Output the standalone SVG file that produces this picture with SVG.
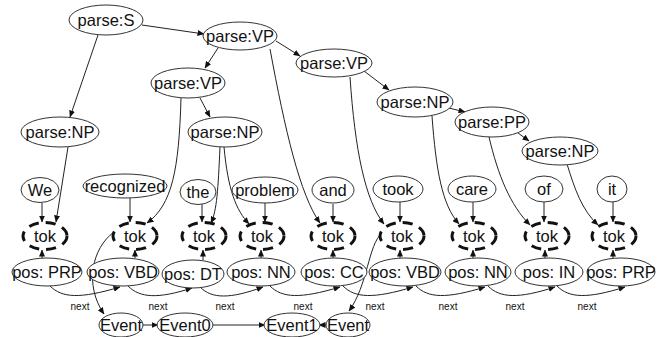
<svg xmlns="http://www.w3.org/2000/svg" width="667" height="337" viewBox="0 0 667 337">
<style>
.n ellipse{fill:#fff;stroke:#333;stroke-width:1}
.n text{font-family:"Liberation Sans",Arial,sans-serif;font-size:16.5px;fill:#111;text-anchor:middle}
.t ellipse{fill:none;stroke:#111;stroke-width:3;stroke-dasharray:10 7}
.e path{fill:none;stroke:#222;stroke-width:1;marker-end:url(#a)}
.lbl{font-family:"Liberation Sans",Arial,sans-serif;font-size:10px;fill:#111;text-anchor:middle}
</style>
<defs>
<marker id="a" markerUnits="userSpaceOnUse" markerWidth="7" markerHeight="6" refX="6.5" refY="3" orient="auto">
<path d="M0,0 L7,3 L0,6 z" fill="#111"/>
</marker>
</defs>
<rect width="667" height="337" fill="#fff"/>
<g id="edges" class="e">
<path d="M142,25 L204,34"/>
<path d="M98,35 L70,117"/>
<path d="M218,48 L205,68"/>
<path d="M276,41 L300,56"/>
<path d="M200,98 L210,117"/>
<path d="M364,71 L389,90"/>
<path d="M449,108 L465,112"/>
<path d="M518,133 L529,141"/>
<path d="M68,147 L56,222"/>
<path d="M181,98 C179,170 172,205 147,223"/>
<path d="M220,147 C218,190 217,210 211,223"/>
<path d="M224,147 C228,190 236,210 249,224"/>
<path d="M270,49 C285,130 300,195 320,223"/>
<path d="M350,77 C355,150 365,200 384,224"/>
<path d="M432,116 C436,170 442,205 459,224"/>
<path d="M489,137 C498,175 510,205 530,225"/>
<path d="M567,164 C575,190 582,210 598,225"/>
<path d="M42,203 L42,222"/>
<path d="M130,198 L130,222"/>
<path d="M202,204 L202,222"/>
<path d="M265,203 L265,222"/>
<path d="M333,204 L333,222"/>
<path d="M400,202 L400,222"/>
<path d="M473,202 L473,222"/>
<path d="M544,202 L544,222"/>
<path d="M613,202 L613,222"/>
<path d="M42,258 L42,250"/>
<path d="M135,258 L135,250"/>
<path d="M203,260 L203,250"/>
<path d="M261,258 L261,250"/>
<path d="M333,258 L333,250"/>
<path d="M400,258 L400,250"/>
<path d="M473,258 L473,250"/>
<path d="M545,258 L545,250"/>
<path d="M613,258 L613,250"/>
<path d="M50,286 C62,298 80,299 120,287"/>
<path d="M128,286 C140,298 158,299 192,288"/>
<path d="M200,287 C212,299 230,299 263,287"/>
<path d="M270,286 C282,298 300,299 340,287"/>
<path d="M343,286 C355,298 373,299 413,287"/>
<path d="M416,286 C428,298 446,299 485,287"/>
<path d="M488,286 C500,298 518,299 555,287"/>
<path d="M557,286 C569,298 587,299 625,287"/>
<path d="M114,232 C92,248 84,285 104,314"/>
<path d="M382,233 C368,245 368,285 349,311"/>
<path d="M142,325 L158,325"/>
<path d="M212,325 L265,325"/>
<path d="M327,325 L319,325"/>
</g>
<g class="lbl-g">
<text class="lbl" x="80" y="310">next</text>
<text class="lbl" x="158" y="310">next</text>
<text class="lbl" x="225" y="310">next</text>
<text class="lbl" x="303" y="310">next</text>
<text class="lbl" x="375" y="310">next</text>
<text class="lbl" x="448" y="310">next</text>
<text class="lbl" x="515" y="310">next</text>
<text class="lbl" x="587" y="310">next</text>
</g>
<g id="parseS" class="n"><ellipse cx="106" cy="20" rx="37" ry="15"/><text x="106" y="26">parse:S</text></g>
<g id="parseVP1" class="n"><ellipse cx="240" cy="36" rx="37" ry="14"/><text x="240" y="42">parse:VP</text></g>
<g id="parseVP2" class="n"><ellipse cx="188" cy="83" rx="37" ry="15"/><text x="188" y="89">parse:VP</text></g>
<g id="parseNP1" class="n"><ellipse cx="60" cy="132" rx="39" ry="15"/><text x="60" y="138">parse:NP</text></g>
<g id="parseNP2" class="n"><ellipse cx="225" cy="132" rx="37" ry="15"/><text x="225" y="138">parse:NP</text></g>
<g id="parseVP3" class="n"><ellipse cx="334" cy="63" rx="38" ry="14"/><text x="334" y="69">parse:VP</text></g>
<g id="parseNP3" class="n"><ellipse cx="415" cy="102" rx="38" ry="15"/><text x="415" y="108">parse:NP</text></g>
<g id="parsePP" class="n"><ellipse cx="492" cy="122" rx="37" ry="15"/><text x="492" y="128">parse:PP</text></g>
<g id="parseNP4" class="n"><ellipse cx="560" cy="151" rx="38" ry="14"/><text x="560" y="157">parse:NP</text></g>
<g id="wWe" class="n"><ellipse cx="40" cy="190" rx="19" ry="12.5"/><text x="40" y="196">We</text></g>
<g id="wRecognized" class="n"><ellipse cx="125" cy="186" rx="42" ry="12"/><text x="125" y="192">recognized</text></g>
<g id="wThe" class="n"><ellipse cx="198" cy="192" rx="18" ry="12.5"/><text x="198" y="198">the</text></g>
<g id="wProblem" class="n"><ellipse cx="265" cy="190" rx="33" ry="13"/><text x="265" y="196">problem</text></g>
<g id="wAnd" class="n"><ellipse cx="333" cy="190" rx="21" ry="13"/><text x="333" y="196">and</text></g>
<g id="wTook" class="n"><ellipse cx="398" cy="189" rx="25" ry="13"/><text x="398" y="195">took</text></g>
<g id="wCare" class="n"><ellipse cx="472" cy="189" rx="24" ry="13"/><text x="472" y="195">care</text></g>
<g id="wOf" class="n"><ellipse cx="544" cy="189" rx="19" ry="13"/><text x="544" y="195">of</text></g>
<g id="wIt" class="n"><ellipse cx="612" cy="189" rx="15" ry="13"/><text x="612" y="195">it</text></g>
<g id="tok1" class="n t"><ellipse cx="45" cy="236" rx="22" ry="13.5"/><text x="45" y="242">tok</text></g>
<g id="tok2" class="n t"><ellipse cx="135" cy="236" rx="22" ry="13.5"/><text x="135" y="242">tok</text></g>
<g id="tok3" class="n t"><ellipse cx="204" cy="236" rx="22" ry="13.5"/><text x="204" y="242">tok</text></g>
<g id="tok4" class="n t"><ellipse cx="262" cy="236" rx="22" ry="13.5"/><text x="262" y="242">tok</text></g>
<g id="tok5" class="n t"><ellipse cx="333" cy="236" rx="22" ry="13.5"/><text x="333" y="242">tok</text></g>
<g id="tok6" class="n t"><ellipse cx="402" cy="236" rx="22" ry="13.5"/><text x="402" y="242">tok</text></g>
<g id="tok7" class="n t"><ellipse cx="474" cy="236" rx="22" ry="13.5"/><text x="474" y="242">tok</text></g>
<g id="tok8" class="n t"><ellipse cx="547" cy="236" rx="22" ry="13.5"/><text x="547" y="242">tok</text></g>
<g id="tok9" class="n t"><ellipse cx="614" cy="236" rx="22" ry="13.5"/><text x="614" y="242">tok</text></g>
<g id="pos1" class="n"><ellipse cx="47" cy="272" rx="35" ry="14"/><text x="47" y="278">pos: PRP</text></g>
<g id="pos2" class="n"><ellipse cx="123" cy="272" rx="36" ry="14"/><text x="123" y="278">pos: VBD</text></g>
<g id="pos3" class="n"><ellipse cx="193" cy="274" rx="31" ry="14"/><text x="193" y="280">pos: DT</text></g>
<g id="pos4" class="n"><ellipse cx="261" cy="272" rx="34" ry="14"/><text x="261" y="278">pos: NN</text></g>
<g id="pos5" class="n"><ellipse cx="334" cy="272" rx="33" ry="14"/><text x="334" y="278">pos: CC</text></g>
<g id="pos6" class="n"><ellipse cx="405" cy="272" rx="36" ry="14"/><text x="405" y="278">pos: VBD</text></g>
<g id="pos7" class="n"><ellipse cx="478" cy="272" rx="33" ry="14"/><text x="478" y="278">pos: NN</text></g>
<g id="pos8" class="n"><ellipse cx="549" cy="272" rx="34" ry="14"/><text x="549" y="278">pos: IN</text></g>
<g id="pos9" class="n"><ellipse cx="621" cy="272" rx="34" ry="14"/><text x="621" y="278">pos: PRP</text></g>
<g id="event" class="n"><ellipse cx="121" cy="325" rx="22" ry="12"/><text x="121" y="331">Event</text></g>
<g id="event0" class="n"><ellipse cx="185" cy="325" rx="28" ry="12"/><text x="185" y="331">Event0</text></g>
<g id="event1" class="n"><ellipse cx="292" cy="325" rx="28" ry="12"/><text x="292" y="331">Event1</text></g>
<g id="event2" class="n"><ellipse cx="348" cy="325" rx="22" ry="12"/><text x="348" y="331">Event</text></g>
</svg>
